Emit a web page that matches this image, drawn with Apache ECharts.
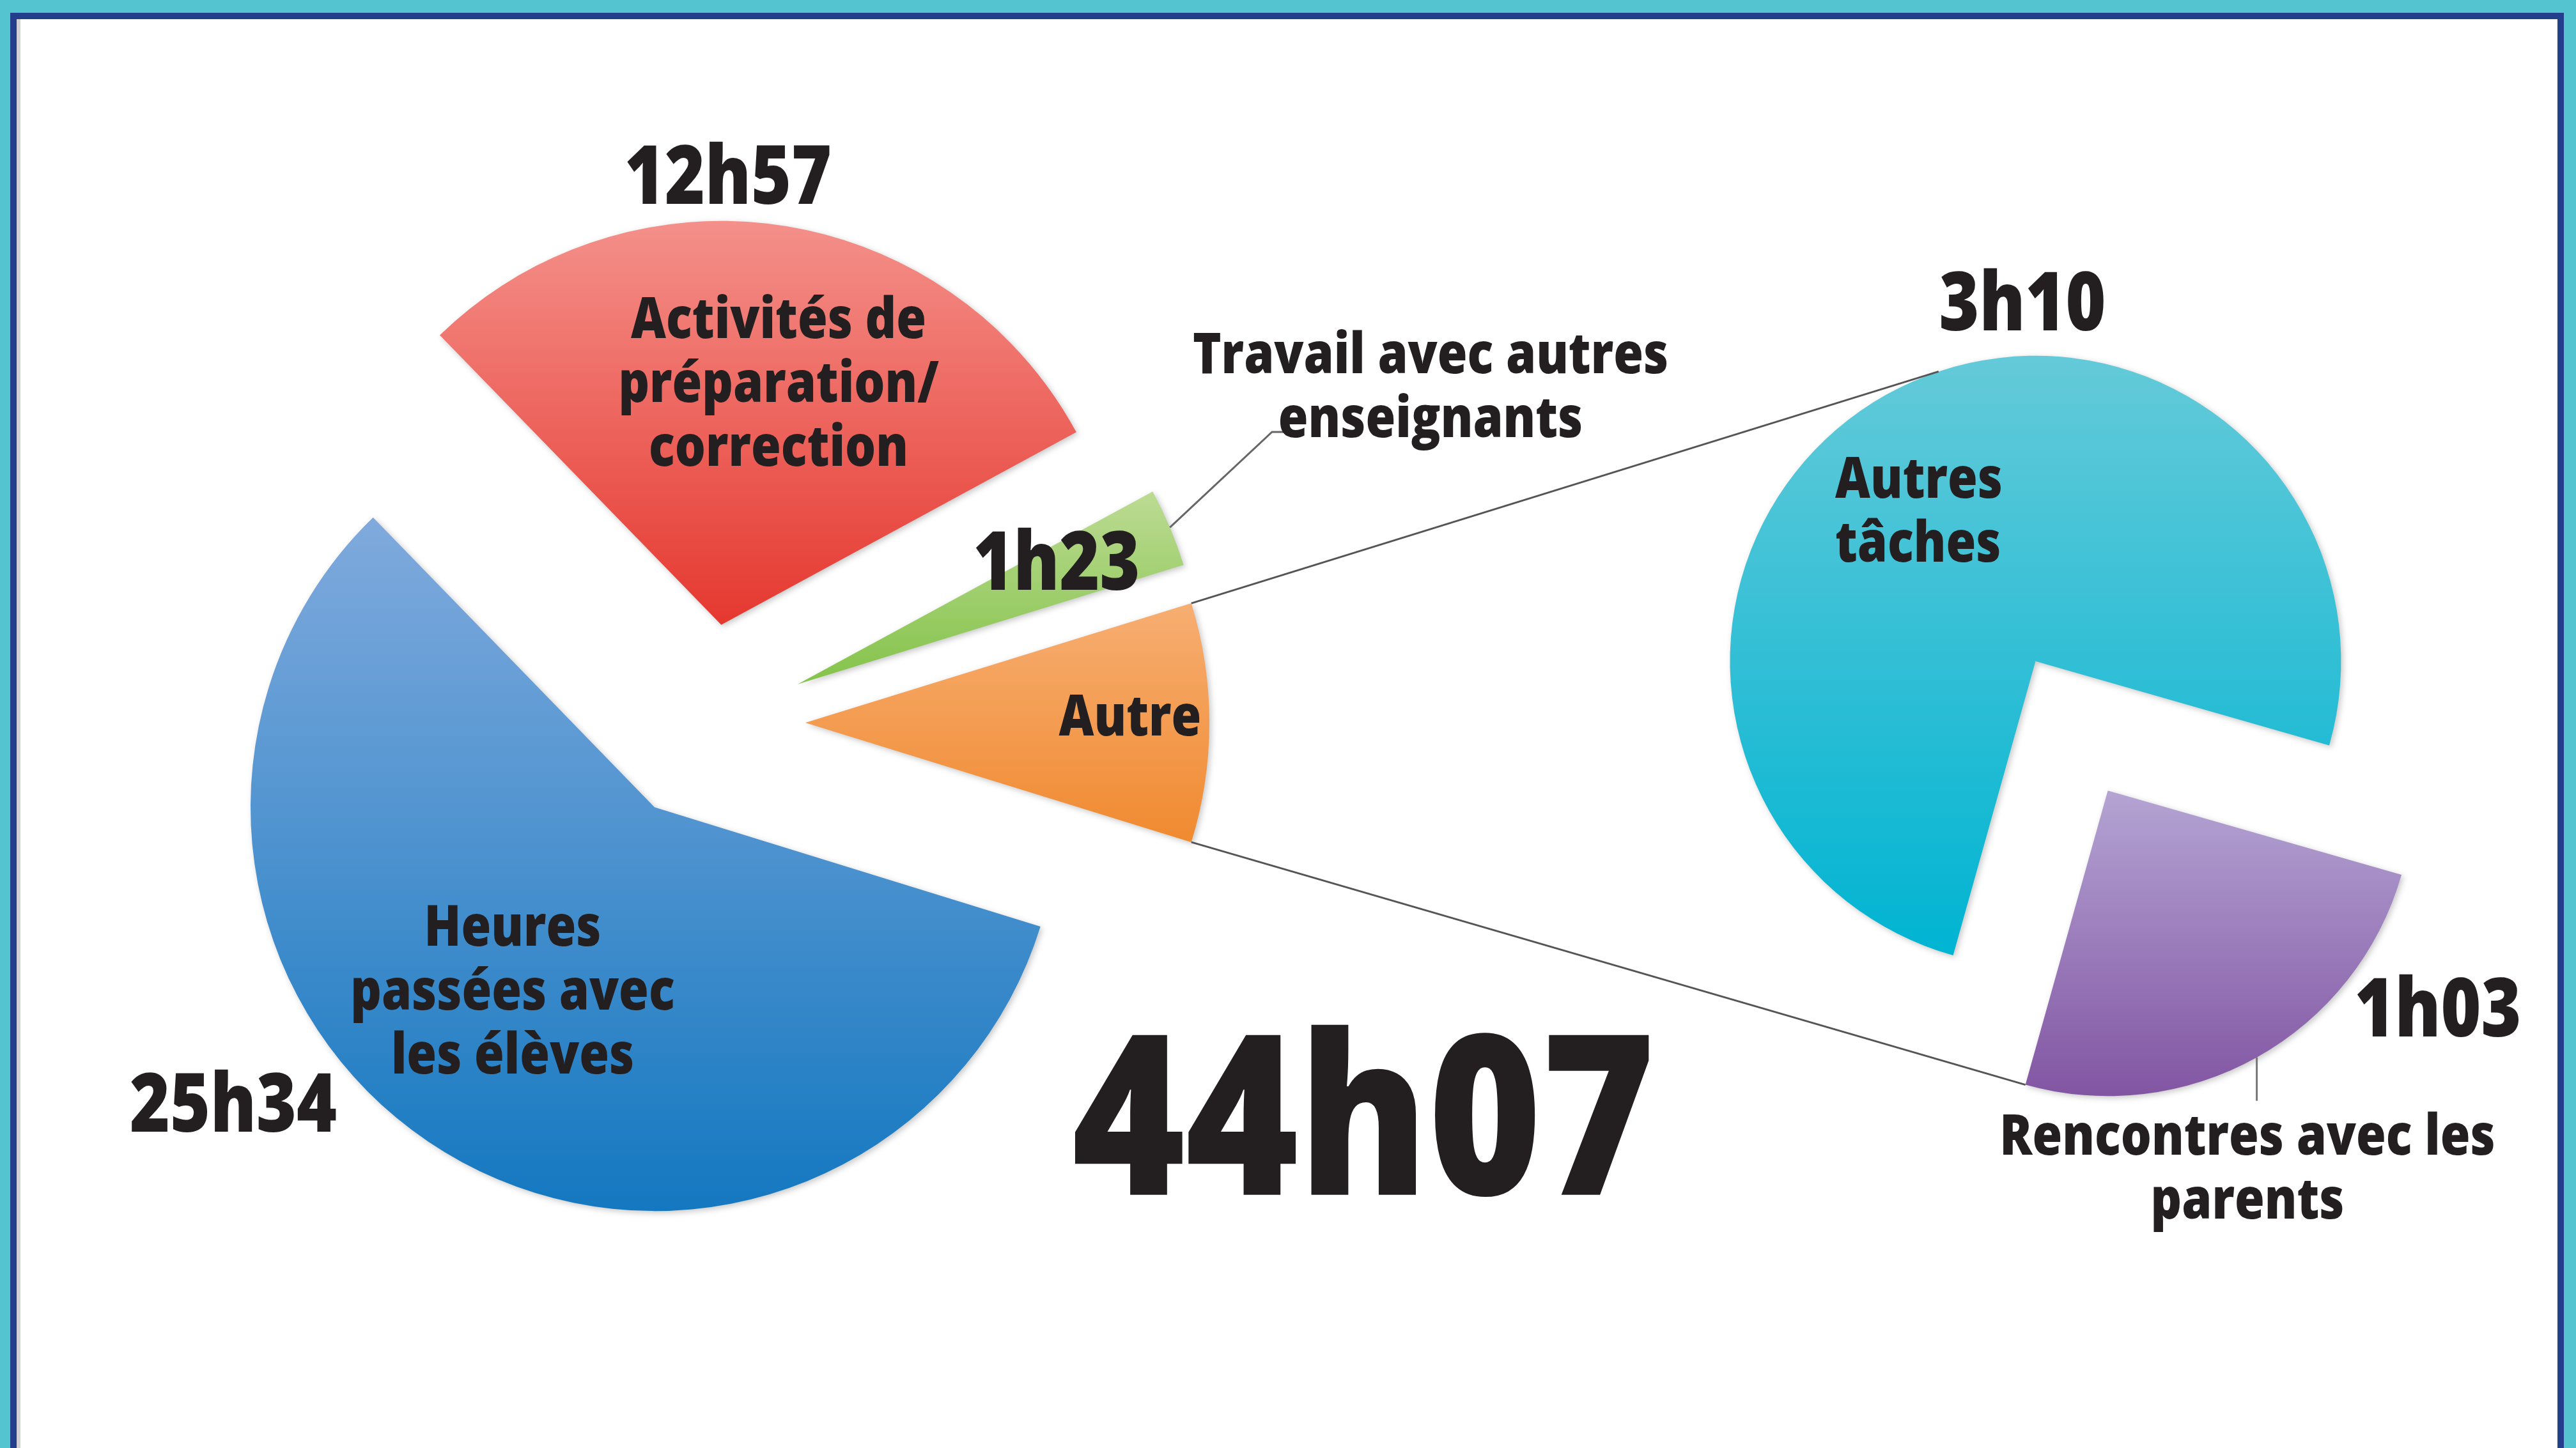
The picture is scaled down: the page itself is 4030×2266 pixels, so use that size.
<!DOCTYPE html>
<html>
<head>
<meta charset="utf-8">
<script src="https://cdn.jsdelivr.net/npm/echarts@6/dist/echarts.min.js"></script>
<style>
html, body { margin: 0; padding: 0; width: 4030px; height: 2266px; overflow: hidden; background: #54c4d0; }
.frame {
  position: absolute; left: 16px; top: 20px; width: 3995px; height: 2300px;
  background: #fff; border: 10px solid #233f8c; border-bottom: none;
  box-sizing: border-box; box-shadow: inset 6px 0 0 #d2d2d2;
}
#chart { position: absolute; left: 0; top: 0; width: 4030px; height: 2266px; }
</style>
</head>
<body>
<div class="frame"></div>
<div id="chart"></div>
<script>
// temps de travail hebdomadaire, en minutes (ordre de dessin, sens horaire)
const mainNames = ['Autre', 'Heures passées avec les élèves', 'Activités de préparation/correction', 'Travail avec autres enseignants'];
const mainLabels = ['Autre', 'Heures\npassées avec\nles élèves', 'Activités de\npréparation/\ncorrection', 'Travail avec autres\nenseignants'];
const mainMinutes = [253, 1534, 777, 83];
const mainTop = ['#f7ae72', '#80aadd', '#f4908a', '#bcdb93'];
const mainBottom = ['#f08a30', '#1478c0', '#e5382f', '#84c34a'];

// détail de "Autre"
const subNames = ['Rencontres avec les parents', 'Autres tâches'];
const subLabels = ['Rencontres avec les\nparents', 'Autres\ntâches'];
const subMinutes = [63, 190];
const subTop = ['#b4a4d3', '#64cad9'];
const subBottom = ['#8255a3', '#00b4d2'];

function fmt(m) {
  return Math.floor(m / 60) + 'h' + String(m % 60).padStart(2, '0');
}
function grad(a, b) {
  return new echarts.graphic.LinearGradient(0, 0, 0, 1, [
    { offset: 0, color: a },
    { offset: 1, color: b },
  ]);
}

const total = mainMinutes.reduce((s, v) => s + v, 0);

// mise en page
const C1 = [1105, 1131], R1 = 632, OFF1 = 155;
const C2 = [3241, 1136], R2 = 478, OFF2 = 116;
const start1 = mainMinutes[0] / total * 180;
const start2 = 344;
const rad = (d) => d * Math.PI / 180;
const pt = (c, r, deg) => [c[0] + r * Math.cos(rad(deg)), c[1] - r * Math.sin(rad(deg))];

// angles des parts
function sliceAngles(values, start) {
  const sum = values.reduce((s, v) => s + v, 0);
  let a = start;
  return values.map((v) => {
    const span = v / sum * 360;
    const res = { from: a, to: a - span, mid: a - span / 2 };
    a -= span;
    return res;
  });
}
const ang1 = sliceAngles(mainMinutes, start1);
const ang2 = sliceAngles(subMinutes, start2);
const apex1 = ang1.map((s) => pt(C1, OFF1, s.mid));
const apex2 = ang2.map((s) => pt(C2, OFF2, s.mid));

// lignes de liaison
const autreTop = pt(apex1[0], R1, ang1[0].from);
const autreBot = pt(apex1[0], R1, ang1[0].to);
const cyanTop = pt(apex2[1], R2, 108.5);
const purpleBot = pt(apex2[0], R2, ang2[0].to);
const greenOut = pt(apex1[3], R1, ang1[3].mid);
const purpleOut = pt(apex2[0], R2, ang2[0].mid);

const textColor = '#231f20';
function txt(str, x, y, size, sx, align) {
  return {
    type: 'text', x: x, y: y, scaleX: sx, z: 20,
    style: {
      text: str,
      font: '800 ' + size + 'px "Open Sans"',
      fill: textColor,
      align: align || 'center', textAlign: align || 'center',
      verticalAlign: 'middle', textVerticalAlign: 'middle',
      lineHeight: Math.round(size * 1.14),
    },
  };
}
function line(points, color, w) {
  return {
    type: 'polyline', z: 15, silent: true,
    shape: { points: points },
    style: { stroke: color, lineWidth: w, fill: null },
  };
}

const chart = echarts.init(document.getElementById('chart'), null, { renderer: 'canvas' });

const shadow = { shadowBlur: 10, shadowColor: 'rgba(0,0,0,0.22)', shadowOffsetX: 3, shadowOffsetY: 3 };

const option = {
  backgroundColor: 'transparent',
  animation: false,
  series: [
    {
      type: 'pie',
      center: C1,
      radius: R1,
      startAngle: start1,
      clockwise: true,
      selectedMode: 'multiple',
      selectedOffset: OFF1,
      silent: true,
      label: { show: false },
      labelLine: { show: false },
      emphasis: { disabled: true },
      itemStyle: shadow,
      data: mainMinutes.map((v, i) => ({
        name: mainNames[i], value: v, selected: true,
        itemStyle: { color: grad(mainTop[i], mainBottom[i]) },
      })),
    },
    {
      type: 'pie',
      center: C2,
      radius: R2,
      startAngle: start2,
      clockwise: true,
      selectedMode: 'multiple',
      selectedOffset: OFF2,
      silent: true,
      label: { show: false },
      labelLine: { show: false },
      emphasis: { disabled: true },
      itemStyle: shadow,
      data: subMinutes.map((v, i) => ({
        name: subNames[i], value: v, selected: true,
        itemStyle: { color: grad(subTop[i], subBottom[i]) },
      })),
    },
  ],
  graphic: [
    line([autreTop, cyanTop], '#555', 3),
    line([autreBot, purpleBot], '#555', 3),
    line([greenOut, [1990, 676], [2008, 676]], '#666', 3),
    line([purpleOut, [purpleOut[0], purpleOut[1] + 68]], '#777', 3),

    // noms
    txt(mainLabels[0], 1768, 1126, 88, 0.86),
    txt(mainLabels[1], 802, 1555, 88, 0.86),
    txt(mainLabels[2], 1218, 604, 88, 0.86),
    txt(mainLabels[3], 2238, 609, 88, 0.86),
    txt(subLabels[0], 3516, 1832, 88, 0.86),
    txt(subLabels[1], 2871, 804, 88, 0.86, 'left'),

    // valeurs
    txt(fmt(mainMinutes[1]), 365, 1735, 128, 0.84),
    txt(fmt(mainMinutes[2]), 1139, 283, 128, 0.84),
    txt(fmt(mainMinutes[3]), 1653, 887, 128, 0.84),
    txt(fmt(subMinutes[1]), 3164, 481, 128, 0.84),
    txt(fmt(subMinutes[0]), 3814, 1586, 128, 0.84),

    // total
    txt(fmt(total), 2133, 1770, 350, 0.865),
  ],
};

chart.setOption(option);
</script>
</body>
</html>
